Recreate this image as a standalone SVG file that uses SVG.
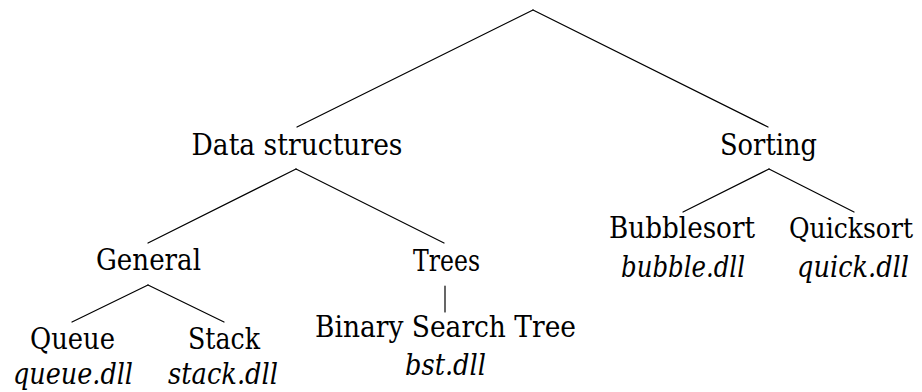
<svg xmlns="http://www.w3.org/2000/svg" width="922" height="392" viewBox="0 0 922 392">
  <style>
    .edge { stroke: #000; stroke-width: 1.2; fill: none; stroke-linecap: round; }
    .t { font-family: "DejaVu Serif", "Liberation Serif", serif; font-size: 29px; fill: #000; text-anchor: middle; }
    .dll { font-style: italic; }
    .narrow { font-size: 27.5px; }
  </style>
  <rect width="922" height="392" fill="#fff"/>

  <!-- tree edges -->
  <g id="edges">
    <line class="edge" x1="533" y1="10" x2="297" y2="127"/>
    <line class="edge" x1="533" y1="10" x2="768" y2="127"/>
    <line class="edge" x1="296" y1="169" x2="148" y2="243"/>
    <line class="edge" x1="296" y1="169" x2="444" y2="243"/>
    <line class="edge" x1="148" y1="285" x2="72" y2="322"/>
    <line class="edge" x1="148" y1="285" x2="224" y2="322"/>
    <line class="edge" x1="445" y1="286" x2="445" y2="312"/>
    <line class="edge" x1="769" y1="169" x2="683" y2="212"/>
    <line class="edge" x1="769" y1="169" x2="854" y2="212"/>
  </g>

  <g id="data-structures">
    <text class="t" x="297" y="155" textLength="211" lengthAdjust="spacingAndGlyphs">Data structures</text>
  </g>
  <g id="sorting">
    <text class="t" x="768.5" y="155" textLength="97" lengthAdjust="spacingAndGlyphs">Sorting</text>
  </g>
  <g id="general">
    <text class="t" x="148.5" y="270" textLength="105" lengthAdjust="spacingAndGlyphs">General</text>
  </g>
  <g id="trees">
    <text class="t" x="446.5" y="271" textLength="67" lengthAdjust="spacingAndGlyphs">Trees</text>
  </g>
  <g id="queue">
    <text class="t" x="72.5" y="349" textLength="85" lengthAdjust="spacingAndGlyphs">Queue</text>
    <text class="t dll" x="73" y="384" textLength="120" lengthAdjust="spacingAndGlyphs">queue.dll</text>
  </g>
  <g id="stack">
    <text class="t" x="224" y="349" textLength="72" lengthAdjust="spacingAndGlyphs">Stack</text>
    <text class="t dll" x="223" y="384" textLength="110" lengthAdjust="spacingAndGlyphs">stack.dll</text>
  </g>
  <g id="bst">
    <text class="t" x="445.5" y="337" textLength="261" lengthAdjust="spacingAndGlyphs">Binary Search Tree</text>
    <text class="t dll" x="445.5" y="375" textLength="81" lengthAdjust="spacingAndGlyphs">bst.dll</text>
  </g>
  <g id="bubblesort">
    <text class="t" x="682" y="238" textLength="146" lengthAdjust="spacingAndGlyphs">Bubblesort</text>
    <text class="t dll" x="683" y="277" textLength="124" lengthAdjust="spacingAndGlyphs">bubble.dll</text>
  </g>
  <g id="quicksort">
    <text class="t narrow" x="851" y="238" textLength="124" lengthAdjust="spacingAndGlyphs">Quicksort</text>
    <text class="t dll" x="853" y="277" textLength="112" lengthAdjust="spacingAndGlyphs">quick.dll</text>
  </g>
</svg>
